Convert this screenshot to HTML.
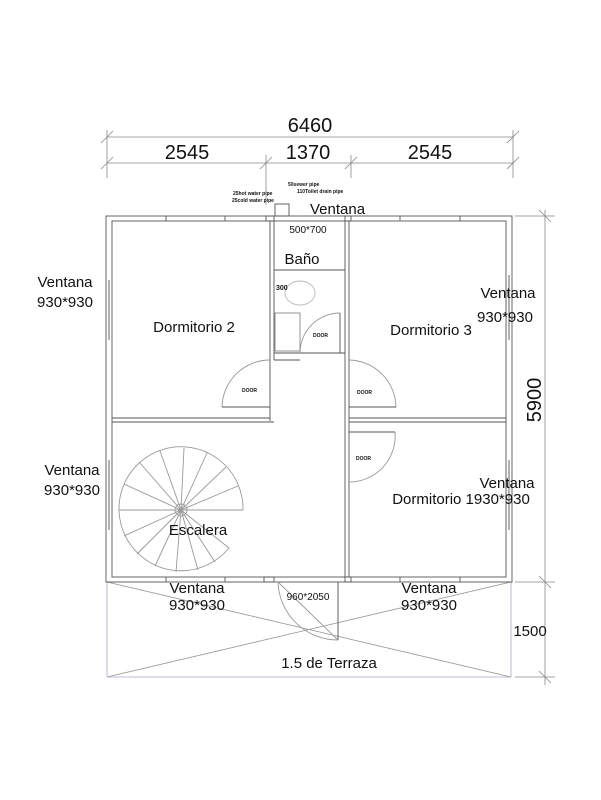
<!DOCTYPE html>
<html><head><style>
html,body{margin:0;padding:0;background:#fff;}
svg{display:block;}
text{font-family:"Liberation Sans",Arial,sans-serif;fill:#111;}
</style></head><body>
<svg width="601" height="800" viewBox="0 0 601 800" xmlns="http://www.w3.org/2000/svg">
<g stroke="#888" stroke-width="0.8" fill="none">
<line x1="107" y1="137" x2="513" y2="137"/>
<line x1="107" y1="163" x2="513" y2="163"/>
<line x1="107" y1="130" x2="107" y2="178"/>
<line x1="513" y1="130" x2="513" y2="178"/>
<line x1="266" y1="155" x2="266" y2="205"/>
<line x1="351" y1="155" x2="351" y2="178"/>
<line x1="101" y1="143" x2="113" y2="131"/><line x1="507" y1="143" x2="519" y2="131"/>
<line x1="101" y1="169" x2="113" y2="157"/><line x1="260" y1="169" x2="272" y2="157"/><line x1="345" y1="169" x2="357" y2="157"/><line x1="507" y1="169" x2="519" y2="157"/>
<line x1="545" y1="210" x2="545" y2="685"/>
<line x1="515" y1="216" x2="555" y2="216"/>
<line x1="515" y1="582" x2="555" y2="582"/>
<line x1="515" y1="677" x2="555" y2="677"/>
<line x1="539" y1="210" x2="551" y2="222"/><line x1="539" y1="576" x2="551" y2="588"/><line x1="539" y1="671" x2="551" y2="683"/>
<g stroke="#aac">
<line x1="107" y1="582" x2="107" y2="677"/><line x1="511" y1="582" x2="511" y2="677"/>
<line x1="107" y1="677" x2="511" y2="677"/>
</g>
<line x1="107" y1="582" x2="511" y2="677" stroke="#999"/>
<line x1="511" y1="582" x2="107" y2="677" stroke="#999"/>
</g>
<g stroke="#555" stroke-width="0.9" fill="none">
<rect x="106" y="216" width="406" height="366"/>
<rect x="112" y="221" width="394" height="356"/>
<line x1="270" y1="221" x2="270" y2="421"/><line x1="274" y1="221" x2="274" y2="360"/>
<line x1="345" y1="221" x2="345" y2="577"/><line x1="349" y1="221" x2="349" y2="577"/>
<line x1="112" y1="418" x2="270" y2="418"/><line x1="112" y1="422" x2="274" y2="422"/>
<line x1="349" y1="418" x2="506" y2="418"/><line x1="349" y1="422" x2="506" y2="422"/>
<line x1="274" y1="270" x2="345" y2="270"/>
<line x1="274" y1="353" x2="345" y2="353"/>
<line x1="274" y1="360" x2="300" y2="360"/>
<line x1="166" y1="216" x2="166" y2="221"/><line x1="225" y1="216" x2="225" y2="221"/>
<line x1="400" y1="216" x2="400" y2="221"/><line x1="460" y1="216" x2="460" y2="221"/>
<line x1="166" y1="577" x2="166" y2="582"/><line x1="225" y1="577" x2="225" y2="582"/>
<line x1="400" y1="577" x2="400" y2="582"/><line x1="460" y1="577" x2="460" y2="582"/>
<line x1="109" y1="280" x2="109" y2="340"/><line x1="509" y1="275" x2="509" y2="340"/>
<line x1="109" y1="460" x2="109" y2="530"/><line x1="509" y1="460" x2="509" y2="530"/>
<rect x="266" y="216" width="8" height="5"/><rect x="345" y="216" width="6" height="5"/>
<rect x="264" y="577" width="10" height="5"/><rect x="345" y="577" width="6" height="5"/>
<line x1="278" y1="582" x2="338" y2="640" stroke="#999"/>
<line x1="338" y1="582" x2="338" y2="640"/>
<path d="M278 582 A60 60 0 0 0 338 640" stroke="#999"/>
<path d="M222 407 A48 48 0 0 1 270 360" stroke="#999"/><line x1="222" y1="407" x2="270" y2="407"/>
<path d="M396 407 A48 48 0 0 0 349 360" stroke="#999"/><line x1="349" y1="407" x2="396" y2="407"/>
<path d="M349 482 A46 46 0 0 0 395 432" stroke="#999"/><line x1="349" y1="432" x2="395" y2="432"/>
<path d="M300 353 A40 40 0 0 1 340 313" stroke="#999"/><line x1="340" y1="313" x2="340" y2="353"/>
<rect x="275" y="313" width="25" height="38" stroke="#888"/>
<ellipse cx="300" cy="293" rx="15" ry="12" stroke="#bbb"/>
<rect x="275" y="204" width="14" height="12"/>
<g stroke="#999">
<path d="M243 510 A62 62 0 1 0 229 548"/>
<circle cx="181" cy="510" r="6"/>
<line x1="181" y1="510" x2="243" y2="510"/><line x1="181" y1="510" x2="238" y2="486"/><line x1="181" y1="510" x2="226" y2="467"/><line x1="181" y1="510" x2="207" y2="453"/><line x1="181" y1="510" x2="184" y2="448"/><line x1="181" y1="510" x2="160" y2="451"/><line x1="181" y1="510" x2="140" y2="463"/><line x1="181" y1="510" x2="124" y2="484"/><line x1="181" y1="510" x2="119" y2="510"/><line x1="181" y1="510" x2="124" y2="536"/><line x1="181" y1="510" x2="137" y2="554"/><line x1="181" y1="510" x2="155" y2="566"/><line x1="181" y1="510" x2="176" y2="572"/><line x1="181" y1="510" x2="198" y2="570"/><line x1="181" y1="510" x2="215" y2="562"/><line x1="181" y1="510" x2="229" y2="548"/>
</g>
</g>
<g font-size="20">
<text x="310" y="132" text-anchor="middle">6460</text>
<text x="187" y="159" text-anchor="middle">2545</text>
<text x="308" y="159" text-anchor="middle">1370</text>
<text x="430" y="159" text-anchor="middle">2545</text>
<text x="541" y="400" text-anchor="middle" transform="rotate(-90 541 400)">5900</text>
</g>
<g font-size="15">
<text x="530" y="636" text-anchor="middle">1500</text>
<text x="310" y="214">Ventana</text>
<text x="302" y="264" text-anchor="middle">Baño</text>
<text x="194" y="332" text-anchor="middle">Dormitorio 2</text>
<text x="431" y="335" text-anchor="middle">Dormitorio 3</text>
<text x="65" y="287" text-anchor="middle">Ventana</text>
<text x="65" y="307" text-anchor="middle">930*930</text>
<text x="508" y="298" text-anchor="middle">Ventana</text>
<text x="505" y="322" text-anchor="middle">930*930</text>
<text x="72" y="475" text-anchor="middle">Ventana</text>
<text x="72" y="495" text-anchor="middle">930*930</text>
<text x="507" y="488" text-anchor="middle">Ventana</text>
<text x="461" y="504" text-anchor="middle">Dormitorio 1930*930</text>
<text x="198" y="535" text-anchor="middle">Escalera</text>
<text x="197" y="593" text-anchor="middle">Ventana</text>
<text x="197" y="610" text-anchor="middle">930*930</text>
<text x="429" y="593" text-anchor="middle">Ventana</text>
<text x="429" y="610" text-anchor="middle">930*930</text>
<text x="329" y="668" text-anchor="middle">1.5 de Terraza</text>
</g>
<g font-size="10">
<text x="308" y="233" text-anchor="middle">500*700</text>
<text x="308" y="600" text-anchor="middle">960*2050</text>
</g>
<g font-size="5" font-weight="bold">
<text x="288" y="186">50sewer pipe</text>
<text x="297" y="193">110Toilet drain pipe</text>
<text x="233" y="195">25hot water pipe</text>
<text x="232" y="202">25cold water pipe</text>
<text x="242" y="392">DOOR</text>
<text x="357" y="394">DOOR</text>
<text x="313" y="337">DOOR</text>
<text x="356" y="460">DOOR</text>
<text x="276" y="290" font-size="7">300</text>
</g>
</svg>
</body></html>
